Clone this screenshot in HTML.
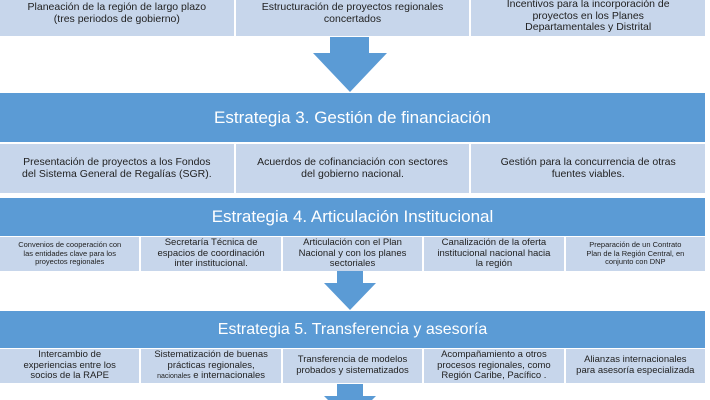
<!DOCTYPE html>
<html><head><style>
body{margin:0;width:710px;height:400px;background:#fff;position:relative;overflow:hidden;font-family:"Liberation Sans",sans-serif;}
.b{position:absolute;left:0;width:705px;background:#5b9bd5;color:#fff;text-align:center;}
.r{position:absolute;left:0;width:705px;display:flex;gap:2px;}
.r div{flex:1;background:#c7d6eb;color:#222;display:flex;align-items:center;justify-content:center;text-align:center;line-height:1.12;overflow:hidden;}
svg{position:absolute;left:0;top:0}
</style></head><body>
<div class="r" style="top:0;height:36px;font-size:10.5px">
<div style="align-items:flex-start;padding-top:2px">Planeación de la región de largo plazo<br>(tres periodos de gobierno)</div>
<div style="align-items:flex-start;padding-top:2px">Estructuración de proyectos regionales<br>concertados</div>
<div style="align-items:flex-end;padding-bottom:2px">Incentivos para la incorporación de<br>proyectos en los Planes<br>Departamentales y Distrital</div>
</div>
<svg width="710" height="400">
<polygon points="330,37 369,37 369,53 387,53 350,92 313,53 330,53" fill="#5b9bd5"/>
<polygon points="337,271 363,271 363,283 376,283 350,310 324,283 337,283" fill="#5b9bd5"/>
<polygon points="337,384 363,384 363,396 376,396 372,400 328,400 324,396 337,396" fill="#5b9bd5"/>
</svg>
<div class="b" style="top:93px;height:49px;line-height:49px;font-size:17px">Estrategia 3. Gestión de financiación</div>
<div class="r" style="top:144px;height:49px;font-size:10.5px">
<div>Presentación de proyectos a los Fondos<br>del Sistema General de Regalías (SGR).</div>
<div>Acuerdos de cofinanciación con sectores<br>del gobierno nacional.</div>
<div>Gestión para la concurrencia de otras<br>fuentes viables.</div>
</div>
<div class="b" style="top:198px;height:38px;line-height:38px;font-size:17px">Estrategia 4. Articulación Institucional</div>
<div class="r" style="top:237px;height:34px;font-size:9.5px">
<div style="font-size:7.5px">Convenios de cooperación con<br>las entidades clave para los<br>proyectos regionales</div>
<div>Secretaría Técnica de<br>espacios de coordinación<br>inter institucional.</div>
<div>Articulación con el Plan<br>Nacional y con los planes<br>sectoriales</div>
<div>Canalización de la oferta<br>institucional nacional hacia<br>la región</div>
<div style="font-size:7.5px">Preparación de un Contrato<br>Plan de la Región Central, en<br>conjunto con DNP</div>
</div>
<div class="b" style="top:311px;height:37px;line-height:37px;font-size:16px">Estrategia 5. Transferencia y asesoría</div>
<div class="r" style="top:349px;height:34px;font-size:9.5px">
<div>Intercambio de<br>experiencias entre los<br>socios de la RAPE</div>
<div><span>Sistematización de buenas<br>prácticas regionales,<br><span style="font-size:7px">nacionales</span> e internacionales</span></div>
<div>Transferencia de modelos<br>probados y sistematizados</div>
<div>Acompañamiento a otros<br>procesos regionales, como<br>Región Caribe, Pacífico .</div>
<div>Alianzas internacionales<br>para asesoría especializada</div>
</div>
</body></html>
